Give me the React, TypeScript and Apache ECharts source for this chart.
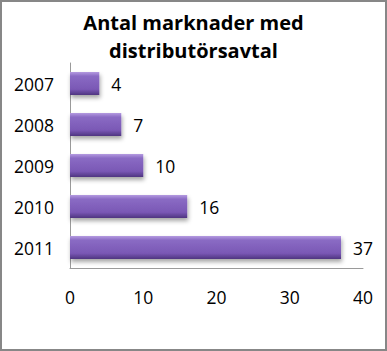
import React, { useEffect, useRef } from "react";
import * as echarts from "echarts";

const categories = ["2007", "2008", "2009", "2010", "2011"];
const values = [4, 7, 10, 16, 37];
const xTicks = [0, 10, 20, 30, 40];
const titleText = "Antal marknader med\ndistributörsavtal";

export default function App() {
  const ref = useRef<HTMLDivElement>(null);
  useEffect(() => {
    const chart = echarts.init(ref.current!, null, { renderer: "svg" });
    const font = "'Open Sans', 'Noto Sans', sans-serif";
    chart.setOption({
      animation: false,
      backgroundColor: "#ffffff",
      title: {
        text: titleText,
        left: "center",
        top: 1,
        textStyle: {
          fontFamily: font,
          fontSize: 20,
          fontWeight: "bold",
          color: "#000",
          lineHeight: 28,
        },
      },
      grid: { left: 68, right: 22, top: 61, bottom: 81, containLabel: false },
      xAxis: {
        type: "value",
        min: xTicks[0],
        max: xTicks[xTicks.length - 1],
        interval: 10,
        axisLine: { show: true, lineStyle: { color: "#9a9a9a", width: 1 } },
        axisTick: { show: false },
        splitLine: { show: false },
        axisLabel: { fontFamily: font, fontSize: 17.5, color: "#000", margin: 20 },
      },
      yAxis: {
        type: "category",
        data: categories,
        inverse: true,
        axisLine: { show: true, lineStyle: { color: "#9a9a9a", width: 1 } },
        axisTick: { show: false },
        axisLabel: { fontFamily: font, fontSize: 17.5, color: "#000", margin: 16 },
      },
      series: [
        {
          type: "bar",
          data: values,
          barWidth: 23,
          itemStyle: {
            color: new echarts.graphic.LinearGradient(0, 0, 0, 1, [
              { offset: 0, color: "#b49ae0" },
              { offset: 0.18, color: "#8a6bc4" },
              { offset: 0.75, color: "#7a58b5" },
              { offset: 1, color: "#4f3580" },
            ]),
            shadowColor: "rgba(0,0,0,0.35)",
            shadowBlur: 4,
            shadowOffsetY: 3,
            shadowOffsetX: 1,
          },
          label: {
            show: true,
            position: "right",
            distance: 12,
            fontFamily: font,
            fontSize: 17.5,
            color: "#000",
          },
        },
      ],
    });
    return () => chart.dispose();
  }, []);
  return (
    <div
      style={{
        position: "fixed",
        left: 0,
        top: 0,
        width: 387,
        height: 351,
        boxSizing: "border-box",
        border: "2px solid #878787",
        background: "#fff",
      }}
    >
      <div ref={ref} style={{ width: 383, height: 347 }} />
    </div>
  );
}
